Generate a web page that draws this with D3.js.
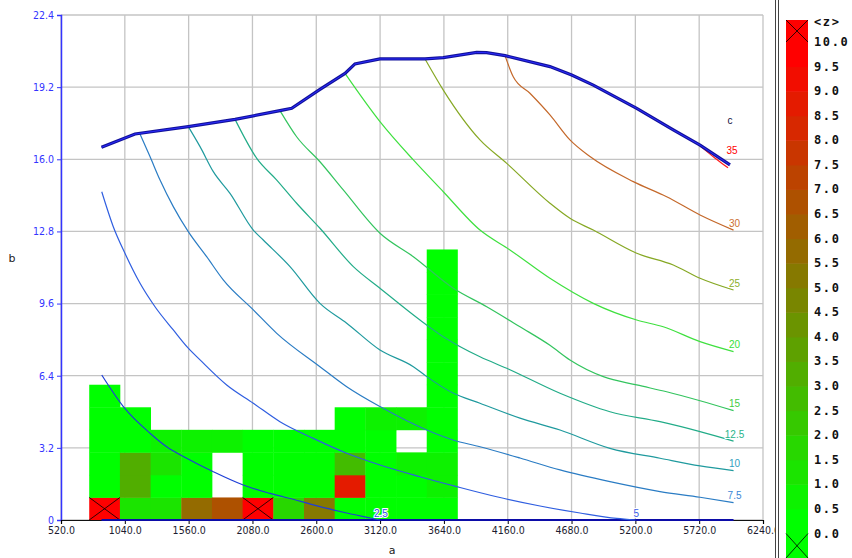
<!DOCTYPE html>
<html>
<head>
<meta charset="UTF-8">
<title>chart</title>
<script src="https://d3js.org/d3.v7.min.js"></script>
<style>
  body { margin: 0; background: #fff; }
  svg { display: block; }
  .axis text { font: 10.5px "DejaVu Sans Condensed", "Liberation Sans", sans-serif; }
  .clabel { font: 10px "Liberation Sans Narrow", "Liberation Sans", sans-serif; paint-order: stroke; stroke: #fff; stroke-width: 2px; }
  .leg text { font: bold 12px "DejaVu Sans Mono", monospace; letter-spacing: 1.6px; fill: #111; }
  .title { font: 11px "DejaVu Sans", sans-serif; fill: #222; }
</style>
</head>
<body>
<script>
// ---- data ----
var xTicks = [520, 1040, 1560, 2080, 2600, 3120, 3640, 4160, 4680, 5200, 5720, 6240];
var xTickLabels = ["520.0", "1040.0", "1560.0", "2080.0", "2600.0", "3120.0", "3640.0", "4160.0", "4680.0", "5200.0", "5720.0", "6240.0"];
var yTicks = [0, 3.2, 6.4, 9.6, 12.8, 16.0, 19.2, 22.4];
var yTickLabels = ["0", "3.2", "6.4", "9.6", "12.8", "16.0", "19.2", "22.4"];

// heatmap bins
var cellEdgesA = [750, 1000, 1250, 1500, 1750, 2000, 2250, 2500, 2750, 3000, 3250, 3500, 3750];
var cellEdgesB = [0, 1, 2, 3, 4, 5, 6, 7, 8, 9, 10, 11, 12];
// one list per a-bin, bottom row first; null = empty, > 10 = over range
var cellValues = [
  [11, 0.2, 0.2, 0.2, 0.2, 0.2],
  [1.2, 3.0, 3.0, 0.2, 0.2],
  [1.2, 0.2, 1.1, 0.9],
  [5.7, 0.2, 0.2, 0.9],
  [6.8, null, null, 0.9],
  [11, 0.2, 0.2, 0.2],
  [1.6, 0.2, 0.2, 0.2],
  [5.3, 0.2, 0.2, 0.2],
  [0.2, 8.8, 2.9, 0.2, 0.2],
  [0.2, 0.2, 0.2, 0.2, 0.7],
  [0.2, 0.2, 0.7, null, 0.7],
  [0.2, 0.7, 0.7, 0.2, 0.2, 0.2, 0.2, 0.2, 0.2, 0.2, 0.2, 0.2]
];

var envelope = [[850,16.53],[1123,17.12],[1557,17.45],[1938,17.77],[2304,18.16],[2400,18.26],[2630,19.10],[2834,19.81],[2915,20.23],[3119,20.45],[3486,20.45],[3635,20.51],[3907,20.74],[3988,20.73],[4138,20.60],[4504,20.11],[4681,19.74],[4857,19.29],[5211,18.26],[5509,17.30],[5727,16.63],[5971,15.75]];
var baseLine = [[850,0],[6000,0]];

var c2_5 = [[852,6.43],[1028,5.03],[1245,3.85],[1381,3.25],[1544,2.74],[1761,2.14],[2005,1.55],[2223,1.18],[2467,0.84],[2576,0.67],[2848,0.31],[3038,0.09],[3119,0]];
var c5 = [[852,14.56],[946,13.01],[1041,11.83],[1164,10.50],[1286,9.46],[1435,8.43],[1557,7.62],[1653,7.10],[1870,5.99],[2087,5.18],[2304,4.36],[2576,3.62],[2848,2.96],[3119,2.44],[3445,1.92],[3744,1.48],[4070,1.03],[4423,0.62],[4749,0.31],[5048,0.07],[5200,0]];
var c7_5 = [[1164,17.12],[1245,16.12],[1327,15.08],[1435,13.90],[1557,12.79],[1707,11.68],[1842,10.65],[2087,9.32],[2278,8.28],[2630,6.80],[2848,5.91],[3119,5.03],[3500,3.99],[3714,3.55],[3934,3.25],[4260,2.75],[4586,2.22],[4993,1.70],[5401,1.26],[5727,1.01],[6000,0.77]];
var c10 = [[1557,17.45],[1653,16.56],[1761,15.45],[1897,14.49],[2087,12.86],[2168,12.42],[2386,11.24],[2630,9.61],[2848,8.73],[3119,7.54],[3391,6.80],[3500,6.36],[3714,5.63],[3934,5.18],[4260,4.52],[4586,3.99],[4993,3.18],[5401,2.74],[5727,2.40],[6000,2.19]];
var c12_5 = [[1938,17.77],[2115,16.04],[2278,15.08],[2440,14.05],[2630,12.94],[2902,11.24],[3119,10.28],[3445,8.87],[3635,8.13],[3934,7.24],[4152,6.73],[4586,5.62],[4993,4.80],[5401,4.36],[5727,3.92],[6000,3.50]];
var c15 = [[2304,18.16],[2440,17.00],[2630,15.89],[2820,14.64],[3119,12.72],[3391,11.68],[3717,10.28],[3989,9.46],[4260,8.57],[4504,7.75],[4667,7.10],[4939,6.36],[5211,5.99],[5455,5.69],[5727,5.29],[6000,4.85]];
var c20 = [[2834,19.81],[3119,17.67],[3391,15.97],[3635,14.56],[3934,12.86],[4178,11.98],[4504,10.72],[4857,9.61],[5211,8.87],[5427,8.57],[5727,7.91],[6000,7.47]];
var c25 = [[3486,20.45],[3635,19.07],[3934,16.86],[4152,15.82],[4504,14.05],[4667,13.38],[4857,12.86],[5211,11.83],[5509,11.31],[5727,10.72],[6000,10.20]];
var c30 = [[4138,20.60],[4205,19.66],[4341,18.93],[4504,17.97],[4667,16.86],[4830,16.12],[5183,15.01],[5455,14.34],[5727,13.53],[6000,12.86]];
var c35 = [[5700,16.72],[5850,16.05],[5955,15.62]];

var contourLabels = ["2.5", "5", "7.5", "10", "12.5", "15", "20", "25", "30", "35"];
var contourData = [c2_5, c5, c7_5, c10, c12_5, c15, c20, c25, c30, c35];

var legendLabels = ["10.0", "9.5", "9.0", "8.5", "8.0", "7.5", "7.0", "6.5", "6.0", "5.5", "5.0", "4.5", "4.0", "3.5", "3.0", "2.5", "2.0", "1.5", "1.0", "0.5", "0.0"];

// ---- styles ----
var contourColors = ["#1f3fd6", "#2f5ee0", "#2a7cc4", "#1f9a9e", "#22ac88", "#33c45e", "#3fe03f", "#86a824", "#c4682a", "#ff1a1a"];
var labelColors   = ["#2f4fe6", "#3a5ee6", "#3a86d6", "#30a0c0", "#28b48a", "#44cc44", "#38e038", "#8cb02a", "#cc7030", "#ff0000"];

var W = 852, H = 558;
var svg = d3.select("body").append("svg").attr("width", W).attr("height", H);

var x = d3.scaleLinear().domain([520, 6240]).range([61, 763]);
var y = d3.scaleLinear().domain([0, 22.4]).range([520, 15]);

var colorBands = d3.range(20).map(function(i) { return d3.interpolateRgb("#00ff00", "#ff0000")(i / 19); });
var color = d3.scaleQuantize().domain([0, 10]).range(colorBands);

// grid
var grid = svg.append("g").attr("stroke", "#c4c4c4").attr("stroke-width", 1.3);
grid.selectAll(".gx").data(xTicks).enter().append("line")
  .attr("x1", d => x(d)).attr("x2", d => x(d)).attr("y1", y(22.4)).attr("y2", y(0));
grid.selectAll(".gy").data(yTicks).enter().append("line")
  .attr("y1", d => y(d)).attr("y2", d => y(d)).attr("x1", x(520)).attr("x2", x(6240));

// heatmap
var cells = [];
cellValues.forEach(function(col, c) {
  col.forEach(function(v, r) { if (v !== null) cells.push({c: c, r: r, v: v}); });
});
var hm = svg.append("g");
hm.selectAll("rect").data(cells).enter().append("rect")
  .attr("x", d => x(cellEdgesA[d.c]))
  .attr("y", d => y(cellEdgesB[d.r + 1]))
  .attr("width", d => x(cellEdgesA[d.c + 1]) - x(cellEdgesA[d.c]) + 0.4)
  .attr("height", d => y(cellEdgesB[d.r]) - y(cellEdgesB[d.r + 1]) + 0.4)
  .attr("fill", d => d.v > 10 ? "#ff0000" : color(d.v));
var over = cells.filter(d => d.v > 10);
function cross(g, x0, y0, x1, y1) {
  g.append("line").attr("x1", x0).attr("y1", y0).attr("x2", x1).attr("y2", y1);
  g.append("line").attr("x1", x0).attr("y1", y1).attr("x2", x1).attr("y2", y0);
}
var xg = svg.append("g").attr("stroke", "#000").attr("stroke-width", 0.8);
over.forEach(function(d) {
  cross(xg, x(cellEdgesA[d.c]), y(cellEdgesB[d.r + 1]), x(cellEdgesA[d.c + 1]), y(cellEdgesB[d.r]));
});

// axes
var yAxis = svg.append("g").attr("class", "axis").attr("transform", "translate(61,0)")
  .call(d3.axisLeft(y).tickValues(yTicks).tickFormat((d, i) => yTickLabels[i]).tickSize(4).tickPadding(3));
yAxis.select(".domain").attr("stroke", "#3434ff").attr("stroke-width", 1.5);
yAxis.selectAll(".tick line").attr("stroke", "#3434ff");
yAxis.selectAll("text").attr("fill", "#3434ff");

var xAxis = svg.append("g").attr("class", "axis").attr("transform", "translate(0,520)")
  .call(d3.axisBottom(x).tickValues(xTicks).tickFormat((d, i) => xTickLabels[i]).tickSize(4).tickPadding(3));
xAxis.select(".domain").attr("stroke", "#111").attr("stroke-width", 1.2);
xAxis.selectAll("text").attr("fill", "#1c1c30");

// contours
var line = d3.line().x(d => x(d[0])).y(d => y(d[1]));
var smooth = d3.line().x(d => x(d[0])).y(d => y(d[1])).curve(d3.curveMonotoneX);
var cg = svg.append("g").attr("fill", "none");
cg.append("path").datum(baseLine).attr("d", line).attr("stroke", "#0c0ca8").attr("stroke-width", 2.2);
contourData.forEach(function(pts, i) {
  cg.append("path").datum(pts).attr("d", smooth).attr("stroke", contourColors[i]).attr("stroke-width", 1.2);
});
cg.append("path").datum(envelope).attr("d", line).attr("stroke", "#12129a").attr("stroke-width", 3.2);
cg.append("path").datum(envelope).attr("d", line).attr("stroke", "#2a2aff").attr("stroke-width", 1);

var labelOffset = {"35": [4, -17]};
contourData.forEach(function(pts, i) {
  var last = pts[pts.length - 1];
  var off = labelOffset[contourLabels[i]] || [1, -7];
  svg.append("text").attr("class", "clabel")
    .attr("x", x(last[0]) + off[0]).attr("y", y(last[1]) + off[1])
    .attr("text-anchor", "middle").attr("dominant-baseline", "central")
    .attr("fill", labelColors[i]).text(contourLabels[i]);
});
var envEnd = envelope[envelope.length - 1];
svg.append("text").attr("class", "clabel").attr("x", x(envEnd[0])).attr("y", y(envEnd[1]) - 44)
  .attr("text-anchor", "middle").attr("dominant-baseline", "central").attr("fill", "#101040").text("c");

// axis titles
svg.append("text").attr("class", "title").attr("x", 12).attr("y", 258).attr("text-anchor", "middle").attr("dominant-baseline", "central").text("b");
svg.append("text").attr("class", "title").attr("x", 392).attr("y", 550).attr("text-anchor", "middle").attr("dominant-baseline", "central").text("a");

// colour bar panel
svg.append("rect").attr("x", 775).attr("y", 0).attr("width", W - 775).attr("height", H).attr("fill", "#fff");
svg.append("line").attr("x1", 775.5).attr("x2", 775.5).attr("y1", 0).attr("y2", H).attr("stroke", "#444");
svg.append("line").attr("x1", 778.5).attr("x2", 778.5).attr("y1", 0).attr("y2", H).attr("stroke", "#444");

var legVals = legendLabels.map(Number);
var yl = d3.scaleLinear().domain([0, 10]).range([533.5, 42]);
var leg = svg.append("g").attr("class", "leg");
var bx = 786, bw = 22;
leg.selectAll("rect.band").data(colorBands).enter().append("rect").attr("class", "band")
  .attr("x", bx).attr("width", bw)
  .attr("y", (d, i) => yl((i + 1) * 0.5))
  .attr("height", (d, i) => yl(i * 0.5) - yl((i + 1) * 0.5) + 0.5)
  .attr("fill", d => d);
leg.append("rect").attr("x", bx).attr("y", 20).attr("width", bw).attr("height", yl(10) - 20).attr("fill", "#ff0000");
leg.append("rect").attr("x", bx).attr("y", yl(0)).attr("width", bw).attr("height", H - yl(0)).attr("fill", "#00ff00");
var lx = leg.append("g").attr("stroke", "#000").attr("stroke-width", 0.8);
cross(lx, bx, 20, bx + bw, yl(10));
cross(lx, bx, yl(0), bx + bw, H);
leg.selectAll("text.lv").data(legVals).enter().append("text").attr("class", "lv")
  .attr("x", 814).attr("y", d => yl(d)).attr("dominant-baseline", "central")
  .text((d, i) => legendLabels[i]);
leg.append("text").attr("x", 814).attr("y", 22).attr("dominant-baseline", "central").text("<z>");
</script>
</body>
</html>
